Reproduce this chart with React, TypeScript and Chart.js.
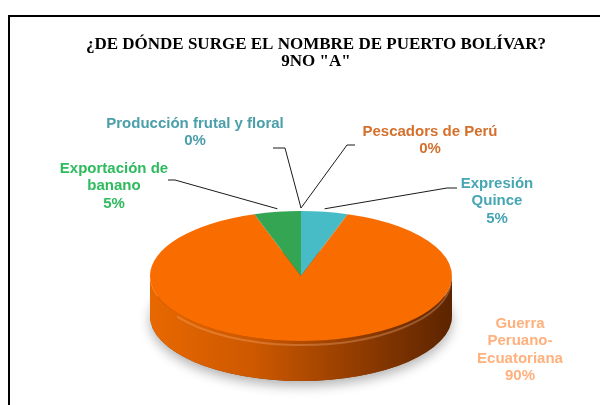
import React, { useEffect, useRef } from "react";
import { Chart, registerables } from "chart.js";

Chart.register(...registerables);

const categories = [
  "Expresión Quince",
  "Guerra Peruano-Ecuatoriana",
  "Exportación de banano",
  "Producción frutal y floral",
  "Pescadors de Perú",
];
const values = [5, 90, 5, 0, 0];
const percentLabels = ["5%", "90%", "5%", "0%", "0%"];
const labelLines = [
  ["Expresión", "Quince"],
  ["Guerra", "Peruano-", "Ecuatoriana"],
  ["Exportación de", "banano"],
  ["Producción frutal y floral"],
  ["Pescadors de Perú"],
];
const titleLines = ["¿DE DÓNDE SURGE EL NOMBRE DE PUERTO BOLÍVAR?", '9NO "A"'];

// styling
const sliceColors = ["#47BCC6", "#F86C00", "#33A553", "#4A9FAA", "#D4702C"];
const labelColors = ["#46A6B3", "#FFB07C", "#2EBB5E", "#4A9FAA", "#D4702C"];
const PIE = { cx: 301, cy: 276, rx: 151, ry: 65, depth: 40 };
const LABEL_POS = [
  { x: 497, y: 184, lead: [457, 188, 447, 188] },
  { x: 520, y: 324, lead: null },
  { x: 114, y: 169, lead: [168, 180, 175, 180] },
  { x: 195, y: 124, lead: [273, 148, 285, 148] },
  { x: 430, y: 132, lead: [355, 145, 347, 145] },
];
const LINE_H = 17.3;

const pie3d = {
  id: "pie3d",
  beforeDatasetsDraw(chart: any) {
    const ctx = chart.ctx as CanvasRenderingContext2D;
    const meta = chart.getDatasetMeta(0);
    const { cx, cy, rx, ry, depth } = PIE;
    const arcs = meta.data.map((a: any) =>
      a.getProps(["x", "y", "startAngle", "endAngle", "outerRadius"], true)
    );
    // shadow
    ctx.save();
    ctx.shadowColor = "rgba(0,0,0,0.3)";
    ctx.shadowBlur = 12;
    ctx.shadowOffsetY = 5;
    ctx.fillStyle = "#8a3a00";
    ctx.beginPath();
    ctx.ellipse(cx, cy + depth, rx, ry, 0, 0, Math.PI * 2);
    ctx.fill();
    ctx.restore();

    // sides
    meta.data.forEach((el: any, i: number) => {
      const p = arcs[i];
      for (let k = -1; k <= 1; k++) {
        const s = Math.max(p.startAngle + 2 * Math.PI * k, 0);
        const e = Math.min(p.endAngle + 2 * Math.PI * k, Math.PI);
        if (e <= s) continue;
        const g = ctx.createLinearGradient(cx - rx, 0, cx + rx, 0);
        g.addColorStop(0, "#E86800");
        g.addColorStop(0.35, "#CC5800");
        g.addColorStop(0.7, "#8F3B00");
        g.addColorStop(1, "#5C2400");
        ctx.beginPath();
        ctx.ellipse(cx, cy, rx, ry, 0, s, e, false);
        ctx.ellipse(cx, cy + depth, rx, ry, 0, e, s, true);
        ctx.closePath();
        ctx.fillStyle = i === 1 ? g : sliceColors[i];
        ctx.fill();
        // rim highlight
        ctx.save();
        ctx.beginPath();
        ctx.ellipse(cx, cy + 4, rx - 1, ry, 0, s + 0.05, e - 0.6, false);
        ctx.strokeStyle = "rgba(255,190,140,0.3)";
        ctx.lineWidth = 2;
        ctx.stroke();
        ctx.restore();
      }
    });

    // top faces, drawn by the library's arc elements under an elliptical transform
    const p0 = arcs[0];
    ctx.save();
    ctx.translate(cx, cy);
    ctx.scale(rx / p0.outerRadius, ry / p0.outerRadius);
    ctx.translate(-p0.x, -p0.y);
    meta.data.forEach((el: any) => el.draw(ctx));
    ctx.restore();

    // labels + leader lines
    ctx.save();
    ctx.font = 'bold 15px "Liberation Sans", Arial, sans-serif';
    ctx.textAlign = "center";
    ctx.textBaseline = "middle";
    arcs.forEach((p: any, i: number) => {
      const pos = LABEL_POS[i];
      const lines = [...labelLines[i], percentLabels[i]];
      ctx.fillStyle = labelColors[i];
      lines.forEach((t, j) => ctx.fillText(t, pos.x, pos.y + j * LINE_H));
      if (pos.lead) {
        const mid = (p.startAngle + p.endAngle) / 2;
        const ax = cx + rx * Math.cos(mid);
        const ay = cy + ry * Math.sin(mid);
        ctx.beginPath();
        ctx.moveTo(pos.lead[0], pos.lead[1]);
        ctx.lineTo(pos.lead[2], pos.lead[3]);
        ctx.lineTo(ax, ay - 3);
        ctx.strokeStyle = "#1a1a1a";
        ctx.lineWidth = 1;
        ctx.stroke();
      }
    });
    ctx.restore();
    return false;
  },
};

export default function App() {
  const ref = useRef<HTMLCanvasElement>(null);
  useEffect(() => {
    if (!ref.current) return;
    const chart = new Chart(ref.current, {
      type: "pie",
      data: {
        labels: categories,
        datasets: [
          {
            data: values,
            backgroundColor: sliceColors,
            borderWidth: 0,
          },
        ],
      },
      options: {
        responsive: false,
        animation: false,
        devicePixelRatio: 1,
        events: [],
        layout: { padding: { top: 20, bottom: 20, left: 52, right: 20 } },
        plugins: {
          legend: { display: false },
          tooltip: { enabled: false },
          title: {
            display: true,
            text: titleLines,
            color: "#000",
            font: { family: '"Liberation Serif", "Times New Roman", serif', size: 17, weight: "bold", lineHeight: 1.0 },
            padding: { top: 16, bottom: 0 },
          },
        },
      },
      plugins: [pie3d],
    } as any);
    return () => chart.destroy();
  }, []);
  return (
    <div
      style={{
        position: "fixed",
        left: 0,
        top: 0,
        width: 600,
        height: 405,
        background: "#fff",
        overflow: "hidden",
      }}
    >
      <div
        style={{
          position: "absolute",
          left: 8,
          top: 15,
          width: 640,
          height: 430,
          border: "2px solid #000",
        }}
      />
      <canvas
        ref={ref}
        width={600}
        height={405}
        style={{ position: "absolute", left: 0, top: 0 }}
      />
    </div>
  );
}
